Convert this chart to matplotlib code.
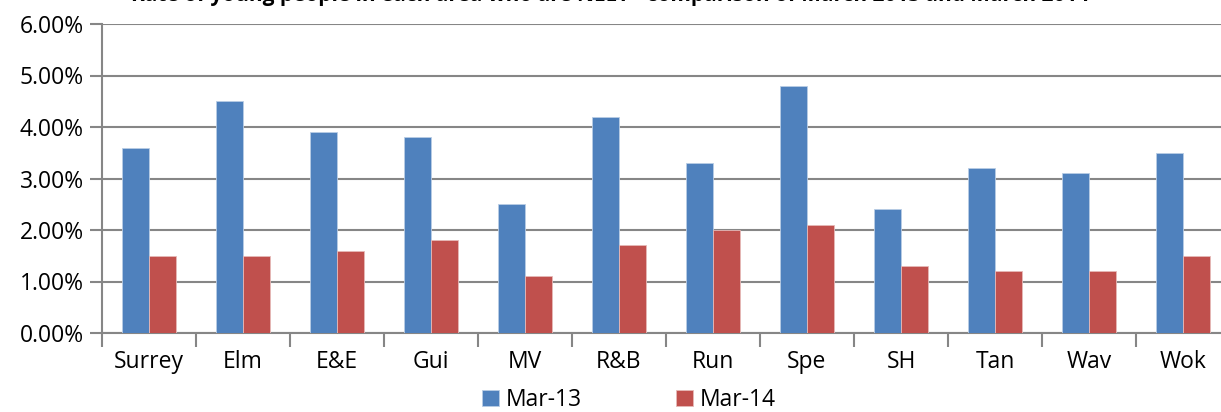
import matplotlib.pyplot as plt
import numpy as np

# Data
areas = ['Surrey', 'Elm', 'E&E', 'Gui', 'MV', 'R&B', 'Run', 'Spe', 'SH', 'Tan', 'Wav', 'Wok']
mar13 = [3.6, 4.5, 3.9, 3.8, 2.5, 4.2, 3.3, 4.8, 2.4, 3.2, 3.1, 3.5]
mar14 = [1.5, 1.5, 1.6, 1.8, 1.1, 1.7, 2.0, 2.1, 1.3, 1.2, 1.2, 1.5]
series_names = ['Mar-13', 'Mar-14']
yticks = [0, 1, 2, 3, 4, 5, 6]
title = 'Rate of young people in each area who are NEET - comparison of March 2013 and March 2014'

plt.rcParams['font.family'] = ['Open Sans', 'DejaVu Sans']

W, H = 1221, 412
fig = plt.figure(figsize=(W / 100, H / 100), dpi=100)
# axes reach past the right edge of the figure, as in the original
ax = fig.add_axes([102 / W, 1 - 333 / H, 1128 / W, 309 / H])

x = np.arange(len(areas))
bw = 0.283
ax.bar(x - bw / 2, mar13, bw, color='#4F81BD', edgecolor='#B9CDE5', linewidth=0.6,
       label=series_names[0], zorder=3)
ax.bar(x + bw / 2, mar14, bw, color='#C0504D', edgecolor='#E6B9B8', linewidth=0.6,
       label=series_names[1], zorder=3)

ax.set_xlim(-0.5, len(areas) - 0.5)
ax.set_ylim(0, 6)
ax.set_yticks(yticks)
ax.set_yticklabels(['%.2f%%' % v for v in yticks])
ax.set_xticks(x)
ax.set_xticklabels(areas)
ax.set_xticks(np.arange(len(areas) + 1) - 0.5, minor=True)

ax.grid(axis='y', color='#868686', linewidth=1.5, zorder=0)
for s in ['top', 'right']:
    ax.spines[s].set_visible(False)
for s in ['left', 'bottom']:
    ax.spines[s].set_color('#868686')
    ax.spines[s].set_linewidth(1.5)

ax.tick_params(axis='y', length=9, width=1.5, color='#868686', labelsize=16.5, pad=4)
ax.tick_params(axis='x', which='major', length=0, labelsize=16.5, pad=12)
ax.tick_params(axis='x', which='minor', length=10, width=1.5, color='#868686')

fig.legend(loc='center', bbox_to_anchor=(629 / W, 1 - 400 / H), ncol=2, frameon=False,
           fontsize=16.5, handlelength=0.75, handleheight=0.75, handletextpad=0.3,
           columnspacing=4.1)

fig.text(610 / W, 1 - 1 / H, title, ha='center', va='baseline', fontsize=15,
         fontweight='bold')

fig.savefig('out.png', dpi=100)
